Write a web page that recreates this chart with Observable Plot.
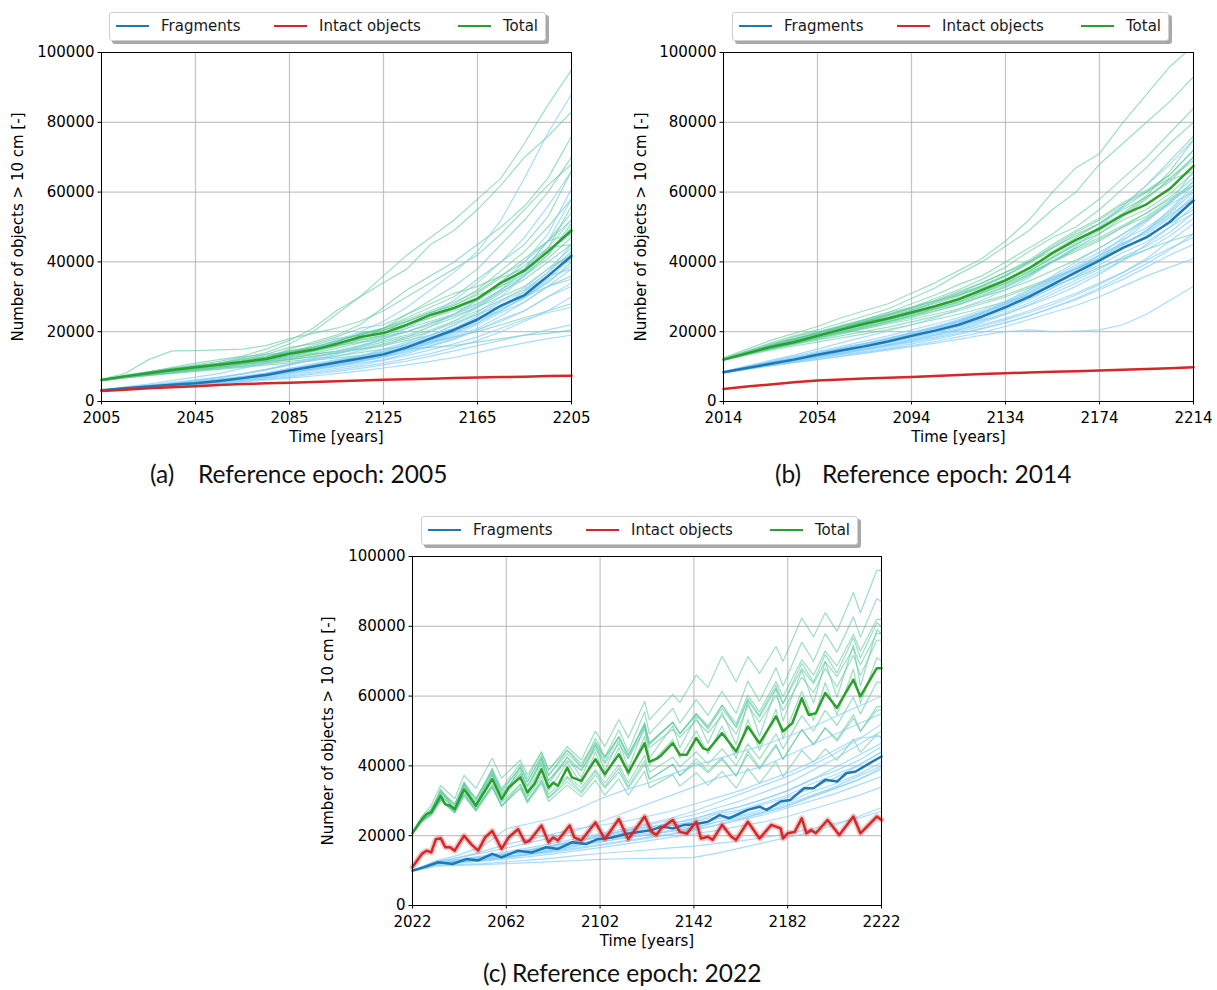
<!DOCTYPE html>
<html><head><meta charset="utf-8">
<script src="https://cdn.jsdelivr.net/npm/d3@7"></script>
<script src="https://cdn.jsdelivr.net/npm/@observablehq/plot@0.6"></script>
<style>
html,body{margin:0;padding:0;background:#fff;}
#root{position:relative;width:1217px;height:990px;overflow:hidden;font-family:"DejaVu Sans",sans-serif;}
.panel{position:absolute;}
.legend{position:absolute;height:27px;width:435px;border:1px solid #cfcfcf;border-radius:3px;background:#fff;box-shadow:3px 3px 0 #a9a9a9;font-size:15px;color:#1a1a1a;z-index:2;}
.sw{position:absolute;top:12px;width:33px;height:0;border-top:2px solid;}
.lt{position:absolute;top:4px;line-height:18px;white-space:nowrap;}
.cap{position:absolute;font-family:Lato,"Open Sans",sans-serif;font-size:24.5px;line-height:28px;white-space:nowrap;color:#111;}
</style></head><body><div id="root"></div>
<script>
// ---------- labels ----------
const legendNames = ["Fragments", "Intact objects", "Total"];
const yLabel = "Number of objects > 10 cm [-]";
const xLabel = "Time [years]";
const yTicks = [0, 20000, 40000, 60000, 80000, 100000];
const aTicks = [2005, 2045, 2085, 2125, 2165, 2205];
const bTicks = [2014, 2054, 2094, 2134, 2174, 2214];
const cTicks = [2022, 2062, 2102, 2142, 2182, 2222];
const captionTags = ["(a)", "(b)", "(c)"];
const captionTexts = ["Reference epoch: 2005", "Reference epoch: 2014", "Reference epoch: 2022"];

// ---------- panel (a), values in thousands of objects ----------
const aYears = [2005,2015,2025,2035,2045,2055,2065,2075,2085,2095,2105,2115,2125,2135,2145,2155,2165,2175,2185,2195,2205];
const aFragMean = [3.2,3.8,4.3,4.8,5.2,5.9,6.7,7.6,8.9,10.0,11.2,12.3,13.5,15.5,18.0,20.5,23.5,27.5,30.5,36.0,41.7];
const aIntactMean = [3.0,3.4,3.8,4.1,4.4,4.7,5.0,5.2,5.4,5.6,5.8,6.0,6.2,6.4,6.5,6.7,6.9,7.0,7.1,7.3,7.4];
const aTotalMean = [6.2,7.2,8.1,9.0,9.8,10.5,11.3,12.2,13.7,14.8,16.5,18.5,19.6,22.0,24.8,26.8,29.5,34.0,37.5,43.0,49.0];
const aTotalRuns = [
 [6.3,7.5,8.6,9.5,10.2,11.0,12.5,14.0,16.5,20.0,25.0,30.0,36.0,42.0,47.0,52.0,58.0,64.0,74.0,85.0,95.0],
 [6.2,7.3,8.4,9.8,11.0,12.0,13.0,15.0,17.5,21.0,26.0,30.0,34.0,38.0,45.0,49.0,55.0,62.0,70.0,76.0,83.0],
 [6.4,8.0,12.0,14.5,14.6,14.8,15.0,16.0,18.0,19.5,21.0,23.0,26.0,30.0,34.0,38.0,42.0,48.0,55.0,62.0,68.0],
 [6.1,7.0,8.0,8.8,9.5,10.5,11.5,12.5,15.0,17.0,19.0,22.0,27.0,32.0,36.0,40.0,45.0,50.0,56.0,64.0,76.0],
 [6.2,7.2,8.1,9.1,10.0,11.0,12.2,13.0,14.5,15.5,17.0,19.5,21.0,23.0,25.5,28.0,32.0,37.5,43.0,50.0,58.0],
 [6.0,7.0,7.8,8.6,9.2,9.8,10.5,11.5,12.5,13.5,14.5,16.0,17.5,19.0,21.5,24.0,27.0,31.0,36.0,42.0,50.0],
 [6.1,7.1,7.9,8.7,9.3,10.0,10.8,11.5,12.0,13.0,14.0,15.0,16.0,17.5,19.0,21.0,23.5,26.0,30.0,34.0,40.0],
 [6.0,6.9,7.6,8.3,9.0,9.6,10.0,10.8,11.5,12.2,13.0,14.0,15.0,16.0,17.0,18.5,20.0,22.0,24.0,26.0,28.0],
 [6.2,7.4,8.5,9.5,10.5,11.5,12.8,13.5,14.0,16.0,18.0,19.0,21.0,24.0,27.0,30.0,35.0,40.0,45.0,53.0,66.0],
 [6.1,7.2,8.2,9.3,10.1,10.9,11.6,12.8,14.2,15.3,16.5,18.0,20.5,22.0,24.0,26.5,29.0,33.0,38.0,46.0,54.0],
 [6.0,6.8,7.5,8.2,8.8,9.4,10.2,11.0,12.0,12.8,13.8,15.0,16.5,18.0,20.0,22.5,25.0,27.5,30.0,33.0,36.0],
 [6.2,7.3,8.3,9.2,10.0,10.8,12.0,13.5,15.5,16.5,18.5,21.0,22.0,25.0,28.0,31.0,33.0,36.0,41.0,46.0,48.0],
 [6.1,7.0,7.8,8.5,9.5,10.4,11.0,12.0,13.0,14.5,16.0,17.0,18.5,20.0,22.0,25.0,29.0,34.5,39.0,44.0,45.0],
 [6.0,6.9,7.7,8.4,9.0,9.8,10.6,11.2,12.2,13.5,14.3,15.5,17.0,18.5,20.5,23.0,26.0,29.0,32.0,37.0,43.0],
 [5.9,6.7,7.4,8.0,8.6,9.2,9.8,10.4,11.0,11.8,12.5,13.2,14.0,15.0,15.5,16.0,17.0,18.0,19.0,19.5,20.5],
 [6.1,7.1,8.0,9.0,9.8,10.6,11.5,12.5,13.8,15.0,16.3,18.0,21.0,25.0,29.0,33.0,38.0,45.0,52.0,60.0,70.0],
 [6.2,7.4,8.4,9.4,10.0,10.9,11.9,12.6,14.5,15.5,17.5,19.0,21.0,23.5,26.0,28.5,31.5,36.0,40.0,46.0,52.0],
 [6.1,7.0,7.9,8.7,9.6,10.2,11.0,11.8,13.0,14.2,15.8,17.5,18.8,21.0,23.0,25.0,27.5,31.5,35.0,40.0,45.0],
 [6.2,7.3,8.2,9.2,10.2,10.8,11.5,12.8,14.0,15.0,17.0,19.5,20.5,23.0,25.5,27.5,31.0,35.5,38.0,44.0,56.0],
 [6.1,7.1,8.0,8.8,9.5,10.3,11.2,12.0,13.5,14.5,16.0,17.8,19.0,21.5,24.0,26.0,28.0,32.0,36.0,41.0,47.0],
 [6.2,7.2,8.2,9.1,9.9,10.7,11.6,12.5,14.0,15.5,17.2,19.2,20.3,22.8,25.5,27.5,30.5,33.0,36.5,42.0,51.0],
 [6.0,7.0,7.7,8.6,9.4,10.0,10.8,11.6,12.8,13.8,15.2,16.8,18.0,20.0,22.5,24.5,27.0,30.0,33.0,38.0,42.0]
];
const aFragRuns = [
 [3.3,4.2,5.0,6.0,7.0,8.0,9.5,11.0,13.0,15.0,17.5,20.0,23.0,27.0,32.0,37.0,43.0,52.0,64.0,77.0,88.0],
 [3.2,3.9,4.6,5.3,6.0,6.8,7.8,9.0,10.5,12.0,13.5,15.5,18.0,21.0,25.0,29.0,34.0,40.0,47.0,56.0,66.0],
 [3.1,3.7,4.2,4.7,5.2,5.8,6.5,7.3,8.2,9.2,10.3,11.5,13.0,15.0,17.0,19.5,22.5,26.0,30.0,35.0,41.0],
 [3.1,3.6,4.0,4.4,4.8,5.3,5.8,6.4,7.0,7.8,8.6,9.5,10.5,11.6,13.0,14.5,16.0,17.5,19.0,20.5,22.0],
 [3.2,3.8,4.4,5.0,5.7,6.5,7.2,8.2,9.5,10.8,12.0,13.0,14.5,16.5,19.0,22.0,25.5,30.0,36.0,44.0,52.0],
 [3.0,3.5,3.9,4.3,4.7,5.1,5.6,6.1,6.7,7.3,8.0,8.8,9.6,10.5,11.5,12.6,14.0,15.5,16.8,18.0,19.0],
 [3.2,3.9,4.5,5.2,6.0,6.9,7.9,9.2,10.7,12.5,14.0,16.0,18.0,20.0,22.5,25.0,28.0,32.0,38.0,46.0,58.0],
 [3.1,3.7,4.3,4.9,5.4,6.0,6.7,7.5,8.5,9.5,10.6,11.8,13.5,15.5,17.5,20.0,23.0,27.0,31.5,36.0,38.0],
 [3.1,3.6,4.1,4.6,5.0,5.5,6.0,6.6,7.3,8.1,9.0,10.0,11.0,12.3,13.7,15.5,17.5,20.0,23.0,26.0,30.0],
 [3.2,3.8,4.5,5.1,5.6,6.3,7.0,8.0,9.0,10.2,11.5,13.0,15.0,17.0,20.0,23.0,27.0,32.0,37.0,43.0,48.0],
 [3.0,3.5,4.0,4.5,5.0,5.5,6.1,6.8,7.6,8.5,9.5,10.5,11.8,13.2,14.8,16.5,18.5,21.0,23.5,25.5,27.0],
 [3.2,3.8,4.3,4.9,5.6,6.2,7.0,7.9,8.8,9.8,11.0,12.2,13.5,15.0,16.5,18.5,21.0,24.5,28.5,33.0,35.0],
 [3.1,3.7,4.2,4.8,5.3,5.9,6.6,7.4,8.3,9.3,10.3,11.4,12.7,14.2,16.0,18.0,20.5,23.0,26.0,30.0,33.0],
 [3.2,3.9,4.6,5.4,6.2,7.0,8.0,9.2,10.5,11.8,13.0,14.5,16.0,18.5,21.5,25.0,29.0,34.0,40.0,48.0,61.0],
 [3.2,3.9,4.5,5.0,5.5,6.3,7.1,8.0,9.4,10.6,11.8,13.0,14.3,16.5,19.0,21.8,25.0,29.0,32.5,38.0,44.0],
 [3.1,3.7,4.2,4.6,5.0,5.6,6.3,7.2,8.4,9.4,10.5,11.6,12.7,14.5,16.8,19.0,22.0,25.5,28.5,33.0,38.0],
 [3.2,3.8,4.4,4.9,5.3,6.0,6.9,7.8,9.1,10.3,11.5,12.8,14.0,16.0,18.5,21.0,24.5,28.5,31.5,37.0,45.0],
 [3.1,3.7,4.2,4.7,5.1,5.7,6.5,7.3,8.6,9.7,10.8,11.9,13.0,15.0,17.3,19.8,22.5,26.5,29.5,34.5,39.0],
 [3.2,3.8,4.3,4.8,5.3,6.1,6.8,7.7,9.0,10.1,11.4,12.6,13.8,15.8,18.3,20.8,24.0,27.0,30.0,35.5,42.5],
 [3.1,3.6,4.1,4.5,4.9,5.4,6.1,6.9,8.0,9.0,10.0,11.0,12.0,13.8,15.8,17.8,20.5,23.5,26.0,30.0,34.0]
];

// ---------- panel (b) ----------
const bYears = [2014,2024,2034,2044,2054,2064,2074,2084,2094,2104,2114,2124,2134,2144,2154,2164,2174,2184,2194,2204,2214];
const bFragMean = [8.4,9.6,10.8,12.0,13.4,14.6,15.8,17.2,18.8,20.3,22.0,24.3,27.0,30.0,33.5,37.0,40.4,44.0,47.0,51.5,57.6];
const bIntactMean = [3.6,4.3,4.9,5.5,6.0,6.3,6.6,6.8,7.0,7.3,7.6,7.9,8.1,8.3,8.5,8.7,8.9,9.1,9.3,9.5,9.8];
const bTotalMean = [12.0,13.8,15.6,17.0,18.8,20.6,22.3,23.8,25.5,27.3,29.3,32.0,34.7,38.2,42.5,46.3,49.5,53.5,56.5,61.0,67.5];
const bTotalRuns = [
 [12.5,15.0,17.5,19.5,21.5,24.0,26.0,28.0,31.0,34.0,37.5,41.0,46.0,52.0,60.0,67.0,71.0,80.0,88.0,96.0,102.0],
 [12.3,14.5,16.8,18.8,20.5,22.5,24.5,26.5,29.5,32.5,36.5,40.0,44.5,49.0,55.0,60.0,68.0,74.0,80.0,86.0,93.0],
 [12.1,14.0,16.0,17.8,19.5,21.5,23.5,25.5,28.0,30.5,33.5,36.0,40.0,44.0,48.0,53.0,58.0,64.0,70.0,77.0,84.0],
 [12.0,13.8,15.5,17.0,18.3,19.8,21.3,22.8,24.5,26.5,28.5,31.0,33.5,36.5,40.0,44.0,48.0,53.0,58.0,64.0,70.0],
 [11.9,13.5,15.0,16.3,17.6,18.8,20.0,21.3,22.8,24.3,26.0,28.0,30.0,32.5,35.0,38.0,41.0,44.0,47.5,51.0,55.0],
 [12.0,13.9,15.8,17.5,19.0,21.0,23.0,24.0,26.0,28.5,31.0,33.0,36.0,40.0,44.0,47.5,51.0,56.0,62.0,69.0,76.0],
 [11.8,13.3,14.7,15.9,17.0,18.2,19.4,20.6,22.0,23.5,25.0,26.8,28.5,30.5,33.0,35.5,38.5,41.0,43.5,46.0,48.0],
 [12.2,14.2,16.2,18.5,20.0,21.5,23.0,25.0,27.0,29.0,31.5,34.0,37.0,40.0,43.0,47.0,51.0,55.5,60.0,65.0,72.0],
 [12.0,13.7,15.3,16.7,18.2,19.6,21.0,22.5,24.0,25.8,27.7,30.0,32.0,34.5,37.5,40.5,44.0,48.0,52.5,57.0,62.0],
 [12.1,14.1,16.0,18.0,19.8,21.8,23.5,25.5,27.0,29.5,32.0,35.0,38.5,43.0,47.0,50.0,55.0,61.0,67.0,74.0,80.0],
 [11.9,13.6,15.2,16.6,17.9,19.3,20.8,22.2,23.5,25.0,26.5,28.5,30.5,33.0,35.5,38.0,41.0,45.0,49.0,54.0,60.0],
 [12.2,14.3,16.5,18.0,19.5,21.2,22.6,24.2,25.8,27.5,29.5,31.5,34.5,37.5,41.0,45.0,49.0,53.5,58.5,63.5,66.0],
 [12.0,13.8,15.6,17.3,18.8,20.4,22.0,23.4,25.0,27.0,29.0,31.5,34.0,37.0,40.0,43.0,46.0,50.0,54.0,58.5,64.0],
 [12.1,14.0,15.9,17.6,19.3,21.0,22.8,24.8,26.8,28.8,30.5,32.5,35.0,38.0,41.5,45.5,50.0,54.0,59.0,66.0,75.0],
 [12.1,14.2,16.2,17.8,19.6,21.5,23.3,25.0,26.8,28.8,31.0,34.0,37.0,40.5,45.0,49.0,52.5,57.0,60.5,65.0,72.0],
 [11.9,13.5,15.1,16.5,18.1,19.8,21.4,22.8,24.4,26.0,27.8,30.2,32.7,36.0,40.0,43.5,46.5,50.0,53.0,57.5,63.0],
 [12.0,13.9,15.8,17.3,19.2,21.0,22.8,24.5,26.2,28.0,30.2,33.0,35.8,39.5,44.0,48.0,51.0,55.0,58.5,63.0,70.0],
 [12.0,13.7,15.4,16.8,18.5,20.2,21.9,23.3,25.0,26.7,28.6,31.2,33.8,37.2,41.3,45.0,48.2,52.0,55.0,59.5,65.5],
 [12.1,14.0,15.9,17.5,19.4,21.3,23.0,24.7,26.5,28.3,30.5,33.3,36.2,40.0,44.5,48.5,52.0,56.5,60.0,64.0,69.0],
 [11.9,13.6,15.3,16.7,18.4,20.0,21.6,23.0,24.7,26.4,28.2,30.6,33.0,36.3,40.3,44.0,47.0,50.5,54.0,58.0,62.0]
];
const bFragRuns = [
 [8.6,10.2,11.8,13.3,15.0,16.8,18.5,20.2,22.0,24.0,26.5,29.0,32.0,35.5,40.0,44.5,50.0,56.0,62.0,68.0,75.0],
 [8.4,9.7,11.0,12.3,13.6,14.8,16.0,17.4,19.0,21.0,23.0,25.0,27.5,30.5,34.0,37.5,41.0,45.0,49.0,53.5,58.0],
 [8.3,9.4,10.4,11.4,12.5,13.4,14.3,15.3,16.5,17.8,19.2,20.8,22.5,24.5,27.0,29.5,32.5,36.0,39.5,43.5,48.0],
 [8.2,9.2,10.2,11.1,12.0,12.9,13.8,14.7,15.7,16.7,17.8,19.0,20.0,20.5,20.0,20.2,20.5,22.0,25.0,29.0,33.0],
 [8.5,9.9,11.3,12.6,14.0,15.3,16.6,18.0,19.5,21.2,23.0,25.5,28.0,31.0,34.5,38.0,42.0,47.0,52.0,57.0,63.0],
 [8.3,9.5,10.7,11.8,12.9,14.0,15.1,16.2,17.5,19.0,20.5,22.0,23.8,26.0,28.5,31.0,34.0,37.0,40.5,44.0,47.0],
 [8.4,9.8,11.1,12.4,13.7,15.0,16.3,17.7,19.2,21.0,22.8,24.7,27.0,29.5,32.5,36.0,40.0,44.5,49.0,55.0,62.0],
 [8.2,9.3,10.3,11.2,12.1,13.0,14.0,15.0,16.0,17.2,18.5,19.8,21.5,23.5,25.5,27.5,30.0,33.0,36.0,38.5,41.0],
 [8.5,10.0,11.5,13.0,14.4,15.8,17.3,18.8,20.5,22.2,24.0,26.2,28.8,32.0,36.0,40.0,44.0,48.0,52.0,56.5,60.0],
 [8.4,9.6,10.8,12.0,13.2,14.5,15.7,17.0,18.3,19.8,21.5,23.3,25.0,27.5,30.0,33.0,36.5,40.5,45.0,50.0,54.0],
 [8.3,9.5,10.6,11.7,12.8,13.8,14.9,16.0,17.2,18.5,20.0,21.6,23.4,25.5,27.8,30.5,33.5,37.0,41.0,46.0,51.0],
 [8.5,9.9,11.2,12.5,13.9,15.3,16.7,18.2,19.8,21.5,23.5,25.6,28.0,30.5,33.5,37.0,41.0,46.0,51.5,57.0,66.0],
 [8.3,9.4,10.5,11.5,12.5,13.6,14.7,15.8,17.0,18.2,19.5,21.0,22.7,24.6,26.8,29.2,32.0,35.0,38.5,42.0,45.0],
 [8.5,9.9,11.2,12.5,14.0,15.3,16.6,18.0,19.7,21.3,23.2,25.6,28.5,31.8,35.5,39.2,42.8,46.5,49.8,54.5,61.0],
 [8.3,9.4,10.5,11.6,12.9,14.0,15.1,16.4,17.9,19.3,20.9,23.0,25.5,28.3,31.6,34.8,38.0,41.5,44.5,48.5,54.0],
 [8.4,9.7,11.0,12.2,13.7,15.0,16.2,17.6,19.3,20.8,22.6,25.0,27.8,31.0,34.6,38.2,41.7,45.3,48.5,53.0,59.0],
 [8.3,9.5,10.6,11.8,13.1,14.3,15.4,16.8,18.3,19.8,21.4,23.6,26.2,29.1,32.5,35.9,39.2,42.7,45.7,50.0,56.0],
 [8.4,9.8,11.1,12.3,13.8,15.1,16.4,17.9,19.6,21.2,23.0,25.4,28.2,31.4,35.0,38.6,42.0,45.5,48.0,52.5,58.5],
 [8.3,9.4,10.4,11.5,12.7,13.8,14.9,16.2,17.6,19.0,20.5,22.6,25.0,27.7,30.8,34.0,37.2,40.5,43.5,47.5,52.5]
];

// ---------- panel (c) ----------
const cFragYears = [2022,2027,2033,2039,2045,2050,2056,2060,2067,2073,2079,2084,2090,2096,2101,2107,2113,2118,2124,2128,2133,2138,2142,2148,2153,2157,2165,2170,2173,2179,2183,2189,2193,2198,2203,2207,2211,2217,2222];
const cFragMean = [10.0,11.0,12.4,11.9,13.3,12.9,14.8,13.8,15.7,15.2,16.7,16.2,18.1,17.6,19.0,19.5,20.5,21.0,21.6,22.6,22.1,23.1,23.3,24.0,25.9,25.0,27.4,28.3,27.4,29.8,30.2,33.6,33.6,36.0,35.5,37.9,38.4,40.8,42.7];
const cIntactYears = [2022,2024,2026,2028,2030,2032,2034,2036,2038,2040,2044,2047,2050,2053,2056,2060,2063,2067,2070,2072,2077,2080,2082,2084,2089,2091,2094,2100,2104,2110,2114,2121,2124,2126,2128,2133,2136,2139,2143,2145,2148,2150,2154,2158,2160,2165,2170,2175,2179,2180,2182,2185,2188,2190,2192,2194,2199,2204,2210,2213,2220,2222];
const cIntactMean = [11.0,12.9,14.8,15.7,15.2,19.0,19.3,16.7,16.7,15.7,20.0,17.6,15.7,19.5,21.4,16.2,19.5,21.9,18.1,18.6,22.9,18.1,19.5,18.6,22.9,19.5,18.6,23.8,19.0,24.8,19.0,25.5,21.1,20.2,22.1,24.5,21.1,20.6,24.0,19.2,19.7,18.8,23.1,19.7,18.8,24.0,19.2,23.1,22.1,19.2,20.7,21.1,25.0,20.7,21.6,20.7,24.5,20.2,25.5,20.7,25.5,24.5];
const cTotalYears = [2022,2025,2028,2030,2034,2036,2038,2040,2044,2049,2053,2056,2060,2063,2068,2071,2074,2077,2080,2082,2084,2088,2090,2094,2100,2104,2110,2114,2121,2123,2126,2128,2133,2136,2139,2143,2146,2148,2154,2160,2165,2170,2177,2180,2184,2188,2191,2194,2198,2203,2210,2213,2220,2222];
const cTotalMean = [20.7,23.8,26.2,26.7,31.4,29.0,28.6,27.6,33.3,28.6,32.9,36.2,30.5,33.8,36.7,32.4,34.8,39.0,33.8,35.2,34.3,39.5,36.7,35.7,41.9,37.6,43.3,38.1,46.5,41.2,42.0,43.0,46.5,43.2,43.2,48.0,45.0,44.5,49.4,44.1,51.3,46.5,54.2,49.9,52.3,59.4,54.6,55.1,60.9,56.6,64.7,59.9,68.0,68.0];
const cRunYears = [2022,2026,2030,2034,2040,2044,2049,2056,2060,2068,2071,2077,2080,2088,2094,2100,2104,2110,2114,2121,2123,2133,2136,2143,2148,2154,2160,2165,2170,2177,2180,2188,2193,2198,2203,2210,2213,2220,2222];
const cTotalRuns = [
 [20.7,25.0,27.7,32.9,29.1,35.3,30.6,39.2,33.5,40.7,36.4,44.0,38.8,45.5,41.7,49.9,45.6,53.3,48.1,58.5,53.2,60.5,58.2,66.0,62.5,71.4,64.1,71.3,66.5,74.2,69.9,82.4,77.0,83.9,78.6,89.7,83.9,96.0,96.0],
 [20.7,24.8,27.2,32.4,28.6,34.8,30.1,38.7,32.5,39.7,35.4,43.0,37.3,44.5,39.7,47.9,42.6,50.3,44.1,55.5,49.2,56.5,52.2,59.0,54.5,61.4,55.1,64.3,58.5,68.2,62.9,75.4,70.0,77.9,72.6,82.7,76.9,88.0,87.0],
 [20.7,24.0,26.7,31.9,27.6,34.3,29.1,37.7,31.5,38.7,33.9,42.0,35.8,42.5,38.7,45.9,41.1,48.3,42.1,52.5,46.2,52.5,49.2,55.0,50.5,57.4,51.1,59.3,54.5,63.2,57.9,69.4,64.0,71.9,66.6,76.7,70.9,81.0,80.0],
 [20.7,24.7,26.4,31.4,28.1,33.3,29.6,37.2,32.0,37.7,34.4,41.0,35.8,41.5,38.7,44.9,40.6,46.3,42.1,50.5,45.2,50.5,48.2,53.0,49.5,54.4,49.1,57.3,52.5,60.2,55.9,65.4,61.0,67.9,62.6,71.7,65.9,76.0,76.0],
 [20.7,25.0,27.2,32.9,27.1,34.8,28.1,37.7,30.0,37.7,31.4,40.5,32.8,41.0,34.7,43.9,36.6,45.3,37.1,48.5,40.2,47.5,42.2,50.0,43.5,51.4,42.1,53.3,44.5,56.2,47.9,61.4,53.0,63.9,54.6,67.7,57.9,71.0,70.0],
 [20.7,24.0,26.2,30.4,27.1,32.3,27.6,34.7,29.5,34.7,30.9,37.0,31.8,37.0,33.7,38.9,35.1,40.3,35.1,43.0,38.2,42.5,39.7,44.0,40.5,44.9,40.1,46.3,42.0,49.2,44.9,54.4,50.0,55.9,51.6,59.7,54.9,64.0,64.0],
 [20.7,24.2,25.7,29.9,26.6,31.3,27.1,33.7,28.5,33.7,29.9,35.5,30.8,35.5,32.2,37.4,33.6,38.3,33.6,40.5,36.2,40.5,37.2,41.0,38.0,41.9,37.1,43.3,39.0,45.7,41.9,50.4,46.0,50.9,47.1,53.7,49.9,56.0,56.0],
 [20.7,24.5,26.2,30.4,26.6,31.8,27.1,34.2,28.5,33.7,29.4,35.0,29.8,34.5,31.2,35.9,31.6,36.3,31.6,38.5,33.7,37.5,34.2,38.0,34.5,38.4,33.6,39.3,35.0,41.2,36.9,44.4,41.0,44.9,41.6,47.7,43.9,49.0,48.0],
 [21.2,25.5,28.7,34.4,30.6,37.3,33.6,42.2,36.5,41.7,37.4,44.0,38.8,44.5,40.7,46.9,42.6,48.3,43.1,51.5,46.2,52.5,49.2,55.0,51.5,57.4,52.1,60.3,55.5,64.2,59.9,70.4,66.0,72.9,68.6,77.7,72.9,82.0,82.0],
 [20.7,25.5,26.7,33.4,27.6,35.3,28.6,39.2,30.5,39.7,32.4,42.0,34.8,42.5,36.7,45.9,38.6,47.3,39.1,51.5,42.2,51.5,45.2,54.0,46.5,55.4,46.1,58.3,48.5,62.2,52.9,67.4,58.0,69.9,59.6,74.7,62.9,79.0,78.0],
 [20.7,24.0,26.2,30.4,26.6,31.8,27.6,34.2,28.5,34.7,29.9,36.0,30.8,36.5,32.7,38.4,34.1,39.3,34.1,41.5,36.2,40.5,37.2,42.0,38.5,42.4,37.1,44.3,39.5,46.2,41.9,50.4,46.0,50.9,47.6,54.7,49.9,57.0,57.0],
 [20.7,25.0,27.7,32.4,29.1,34.8,30.6,38.2,33.0,39.7,35.4,42.5,37.3,43.5,39.7,46.4,42.1,48.3,43.1,52.0,46.7,52.5,49.2,54.5,51.0,56.4,51.1,58.8,54.0,62.2,57.9,67.9,63.5,69.9,65.6,73.7,68.9,78.0,78.0]
];
const cFragRunYears = [2022,2032,2042,2052,2062,2072,2082,2092,2102,2112,2122,2132,2142,2152,2162,2172,2182,2192,2202,2212,2222];
const cFragRuns = [
 [10.0,12.8,14.5,17.0,22.0,23.5,25.0,27.5,30.5,33.0,35.0,37.5,40.0,42.0,44.0,46.0,48.5,51.0,54.0,57.0,60.0],
 [10.0,12.5,13.8,15.0,16.5,18.0,19.5,21.5,24.0,26.5,29.0,31.5,34.0,36.5,38.0,40.0,43.0,46.0,49.0,52.0,55.0],
 [10.0,12.3,13.0,13.8,14.8,15.8,17.0,18.5,20.0,21.5,23.0,24.5,26.0,28.0,30.0,32.5,35.0,38.5,42.0,46.0,50.0],
 [9.9,12.0,12.5,13.0,13.8,14.7,15.8,17.0,18.2,19.3,20.3,21.3,22.3,24.0,25.5,27.0,29.0,31.5,34.0,37.0,40.0],
 [9.8,11.5,11.8,12.0,12.5,13.0,13.6,14.3,14.9,15.4,15.9,16.5,17.0,17.8,18.5,19.5,20.5,22.0,23.5,25.0,27.0],
 [9.9,11.8,12.2,12.7,13.3,14.0,14.8,15.7,16.6,17.5,18.5,19.5,20.5,21.5,22.8,24.0,25.5,27.5,29.5,31.5,34.0],
 [10.0,12.4,13.3,14.2,15.4,16.6,17.8,19.2,20.6,22.0,23.4,25.0,27.0,29.5,32.0,34.5,37.0,40.0,43.5,47.5,52.0],
 [9.8,11.3,11.5,11.7,12.0,12.3,12.6,12.9,13.2,13.4,13.5,13.6,13.8,15.0,16.5,18.0,19.5,21.0,23.0,25.5,28.0],
 [10.0,12.2,12.9,13.6,14.5,15.5,16.5,17.7,19.0,20.3,21.6,22.8,24.0,25.5,27.0,29.0,31.0,33.5,36.5,40.0,44.0],
 [10.0,12.6,13.8,15.5,17.5,19.0,20.5,22.0,23.0,24.0,25.5,27.0,29.0,31.0,33.0,35.5,38.0,41.0,44.5,48.0,48.5],
 [9.9,11.9,12.4,13.0,13.7,14.5,15.3,16.2,17.2,18.2,19.2,20.3,21.5,23.0,24.5,26.0,28.0,30.0,32.0,34.5,37.0],
 [10.0,12.3,13.1,14.0,15.0,16.1,17.3,18.6,20.0,21.5,22.5,23.5,25.0,26.5,28.5,30.5,33.0,36.0,39.5,43.0,46.5],
 [9.9,12.1,12.7,13.3,14.0,14.8,15.6,16.5,17.5,18.5,19.5,20.5,21.8,23.2,24.8,26.5,28.5,31.0,33.5,36.0,39.0],
 [10.0,12.3,12.9,13.7,14.7,15.9,17.2,18.7,19.9,21.3,22.3,23.5,24.6,27.0,28.3,30.5,32.8,36.0,38.5,41.5,45.5],
 [9.9,12.0,12.4,13.0,13.8,14.8,15.9,17.2,18.2,19.4,20.2,21.2,22.1,24.0,25.0,26.8,28.5,31.2,33.5,36.0,39.5],
 [10.0,12.2,12.7,13.5,14.5,15.6,16.9,18.3,19.5,20.9,21.8,23.0,24.0,26.3,27.4,29.5,31.6,34.8,37.4,40.2,44.0],
 [9.9,12.1,12.5,13.1,14.0,15.0,16.2,17.5,18.6,19.8,20.7,21.7,22.7,24.8,25.8,27.6,29.5,32.5,34.8,37.5,41.0]
];

// ---------- helpers ----------
const series = (years, vals) => vals.map((v, i) => ({year: years[i], v: v * 1000}));
const runs = (years, list) => list.flatMap((vals, r) => vals.map((v, i) => ({year: years[i], v: v * 1000, run: r})));

const COL = {frag: "#1f77b4", intact: "#d62728", total: "#2ca02c", fragRun: "#87cefa", totalRun: "#5fc99e"};

const panels = [
  {left: 0, top: 40, width: 600, mL: 101, mR: 29, yLabX: 18, domain: [2005, 2205], ticks: aTicks,
   frag: series(aYears, aFragMean), intact: series(aYears, aIntactMean), total: series(aYears, aTotalMean),
   fragRuns: runs(aYears, aFragRuns), totalRuns: runs(aYears, aTotalRuns), halo: false,
   legend: [109, 12], cap: [150, 198, 460]},
  {left: 610, top: 40, width: 607, mL: 113, mR: 24, yLabX: 31, domain: [2014, 2214], ticks: bTicks,
   frag: series(bYears, bFragMean), intact: series(bYears, bIntactMean), total: series(bYears, bTotalMean),
   fragRuns: runs(bYears, bFragRuns), totalRuns: runs(bYears, bTotalRuns), halo: false,
   legend: [732, 12], cap: [775, 822, 460]},
  {left: 300, top: 544, width: 620, mL: 112, mR: 39, yLabX: 28, domain: [2022, 2222], ticks: cTicks,
   frag: series(cFragYears, cFragMean), intact: series(cIntactYears, cIntactMean), total: series(cTotalYears, cTotalMean),
   fragRuns: runs(cFragRunYears, cFragRuns), totalRuns: runs(cRunYears, cTotalRuns), halo: true,
   legend: [421, 516], cap: [483, 512, 959]}
];

const root = document.getElementById("root");
const H = 420, MT = 12, MB = 59;

panels.forEach((p, k) => {
  const chart = Plot.plot({
    width: p.width, height: H,
    marginLeft: p.mL, marginRight: p.mR, marginTop: MT, marginBottom: MB,
    style: {fontFamily: "DejaVu Sans", fontSize: "15px", color: "#000", background: "transparent", overflow: "visible"},
    x: {domain: p.domain},
    y: {domain: [0, 100000]},
    marks: [
      Plot.gridX(p.ticks, {stroke: "#b0b0b0", strokeOpacity: 0.75, strokeWidth: 1.2}),
      Plot.gridY(yTicks, {stroke: "#b0b0b0", strokeOpacity: 0.75, strokeWidth: 1.2}),
      Plot.line(p.totalRuns, {x: "year", y: "v", z: "run", stroke: COL.totalRun, strokeWidth: 1.2, strokeOpacity: 0.62, clip: true}),
      Plot.line(p.fragRuns, {x: "year", y: "v", z: "run", stroke: COL.fragRun, strokeWidth: 1.2, strokeOpacity: 0.72, clip: true}),
      Plot.line(p.frag, {x: "year", y: "v", stroke: COL.frag, strokeWidth: 2.5}),
      p.halo ? Plot.line(p.intact, {x: "year", y: "v", stroke: COL.intact, strokeWidth: 6, strokeOpacity: 0.25}) : null,
      Plot.line(p.intact, {x: "year", y: "v", stroke: COL.intact, strokeWidth: 2.5}),
      Plot.line(p.total, {x: "year", y: "v", stroke: COL.total, strokeWidth: 2.5}),
      Plot.frame({stroke: "#000", strokeWidth: 1}),
      Plot.axisX({ticks: p.ticks, tickFormat: d => String(d), tickSize: 3.5, tickPadding: 7, label: null}),
      Plot.axisY({ticks: yTicks, tickFormat: d => String(d), tickSize: 3.5, tickPadding: 3.5, label: null}),
      Plot.text([xLabel], {frameAnchor: "bottom", dy: 36, lineAnchor: "middle", textAnchor: "middle", text: d => d, fontSize: 15}),
      Plot.text([yLabel], {frameAnchor: "left", dx: p.yLabX - p.mL, rotate: -90, lineAnchor: "middle", textAnchor: "middle", text: d => d, fontSize: 15})
    ]
  });
  const div = document.createElement("div");
  div.className = "panel";
  div.style.left = p.left + "px";
  div.style.top = p.top + "px";
  div.append(chart);
  root.append(div);

  // legend
  const lg = document.createElement("div");
  lg.className = "legend";
  lg.style.left = p.legend[0] + "px";
  lg.style.top = p.legend[1] + "px";
  const swX = [6, 164, 348], txX = [51, 209, 393], cols = [COL.frag, COL.intact, COL.total];
  legendNames.forEach((name, i) => {
    const s = document.createElement("div");
    s.className = "sw"; s.style.left = swX[i] + "px"; s.style.borderTopColor = cols[i];
    const t = document.createElement("div");
    t.className = "lt"; t.style.left = txX[i] + "px"; t.textContent = name;
    lg.append(s, t);
  });
  root.append(lg);

  // caption
  const c1 = document.createElement("div");
  c1.className = "cap"; c1.style.left = p.cap[0] + "px"; c1.style.top = p.cap[2] + "px"; c1.textContent = captionTags[k];
  const c2 = document.createElement("div");
  c2.className = "cap"; c2.style.left = p.cap[1] + "px"; c2.style.top = p.cap[2] + "px"; c2.textContent = captionTexts[k];
  root.append(c1, c2);
});
</script></body></html>
